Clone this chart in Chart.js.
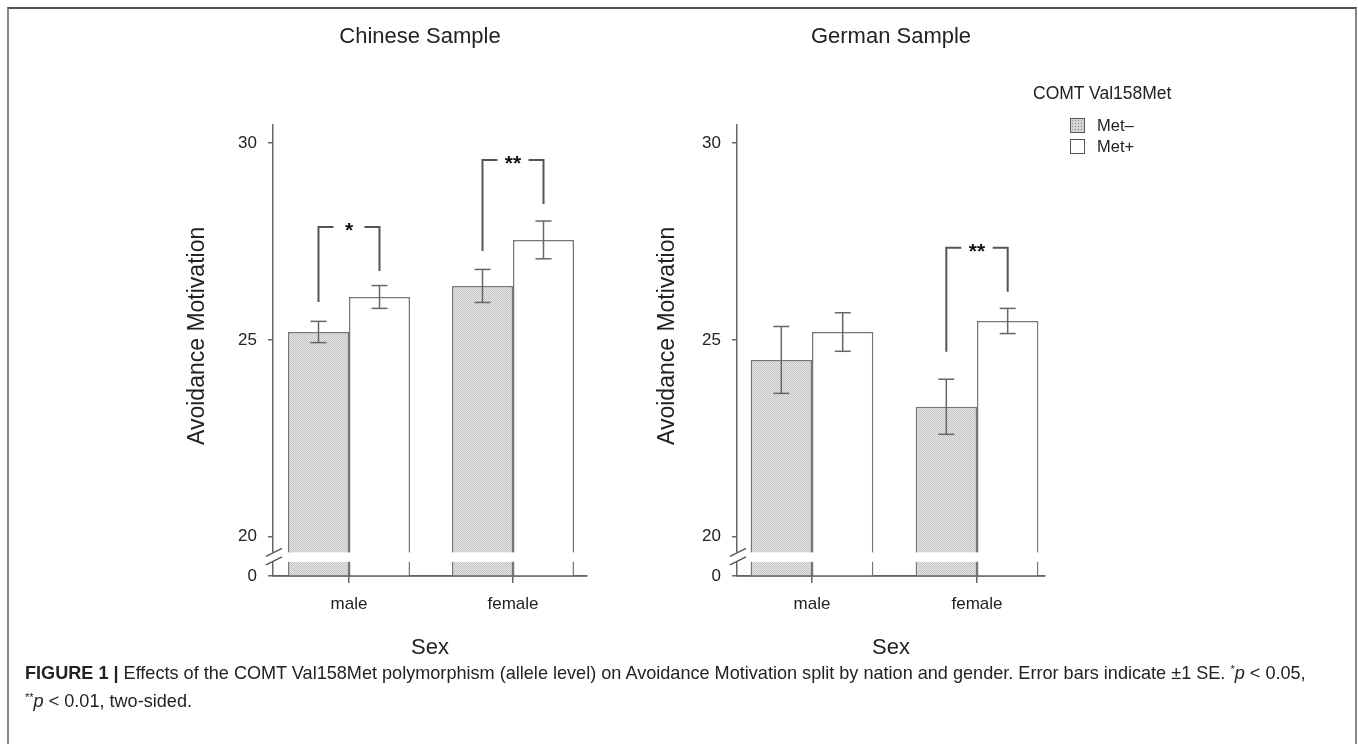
<!DOCTYPE html>
<html>
<head>
<meta charset="utf-8">
<script src="https://cdn.jsdelivr.net/npm/chart.js@4.4.0/dist/chart.umd.min.js"></script>
<style>
body{margin:0;background:#fff;width:1358px;height:744px;overflow:hidden;position:relative;font-family:"Liberation Sans",Arial,sans-serif;color:#222}
#frame{position:absolute;left:7px;top:7px;width:1346px;height:800px;border:2px solid #888;border-top-color:#555;border-bottom:none}
canvas{position:absolute;top:0}
.ttl{position:absolute;top:23px;font-size:22px;line-height:26px;transform:translateX(-50%);white-space:nowrap}
#leg{position:absolute;left:1033px;top:83px;font-size:17.5px;line-height:20px}
.item{position:absolute;left:1070px;font-size:16.5px;line-height:20px;white-space:nowrap}
.sw{position:absolute;left:0;top:3px;width:13px;height:13px;border:1px solid #555;background:#fff}
.sw.dot{background-color:#d4d4d4;background-image:radial-gradient(#888 35%,transparent 40%);background-size:3px 3px}
.item span{position:absolute;left:27px;top:0}
#cap{position:absolute;left:25px;top:659px;font-size:18.1px;line-height:28px;white-space:nowrap;color:#222}
#cap sup{font-size:11px;vertical-align:6px;line-height:0}
</style>
</head>
<body>
<div id="frame"></div>
<canvas id="c1" width="640" height="690" style="left:0"></canvas>
<canvas id="c2" width="718" height="690" style="left:640px"></canvas>
<div class="ttl" style="left:420px">Chinese Sample</div>
<div class="ttl" style="left:891px">German Sample</div>
<div id="leg">COMT Val158Met</div>
<div class="item" style="top:115px"><div class="sw dot"></div><span>Met–</span></div>
<div class="item" style="top:136px"><div class="sw"></div><span>Met+</span></div>
<div id="cap"><b>FIGURE 1 |</b> Effects of the COMT Val158Met polymorphism (allele level) on Avoidance Motivation split by nation and gender. Error bars indicate ±1 SE. <sup>*</sup><i>p</i> &lt; 0.05,<br><sup>**</sup><i>p</i> &lt; 0.01, two-sided.</div>
<script>
var categories = ['male', 'female'];
var seriesNames = ['Met–', 'Met+'];

var chineseMetMinus = [25.20, 26.37];
var chineseMetPlus = [26.09, 27.54];
var chineseSeMinus = [0.27, 0.42];
var chineseSePlus = [0.29, 0.48];

var germanMetMinus = [24.49, 23.30];
var germanMetPlus = [25.20, 25.48];
var germanSeMinus = [0.85, 0.70];
var germanSePlus = [0.49, 0.32];

// significance brackets: category, end of left leg, end of right leg, top, stars
var chineseBrackets = [
  {cat: 0, left: 25.96, right: 26.75, top: 27.87, label: '*'},
  {cat: 1, left: 27.26, right: 28.45, top: 29.57, label: '**'}
];
var germanBrackets = [
  {cat: 1, left: 24.70, right: 26.22, top: 27.34, label: '**'}
];

var yTicks = [19, 20, 25, 30];
var yTickLabels = ['0', '20', '25', '30'];

function makePattern() {
  var c = document.createElement('canvas');
  c.width = 2; c.height = 2;
  var g = c.getContext('2d');
  g.fillStyle = '#e4e4e4'; g.fillRect(0, 0, 2, 2);
  g.fillStyle = '#c6c6c6'; g.fillRect(0, 0, 1, 1); g.fillRect(1, 1, 1, 1);
  return g.createPattern(c, 'repeat');
}
var pattern = makePattern();

function line(ctx, x1, y1, x2, y2) {
  ctx.beginPath(); ctx.moveTo(x1, y1); ctx.lineTo(x2, y2); ctx.stroke();
}

var extras = {
  id: 'extras',
  afterDatasetsDraw: function(chart, args, opts) {
    var ctx = chart.ctx, a = chart.chartArea, ys = chart.scales.y;
    ctx.save();
    ctx.strokeStyle = '#666';
    ctx.lineWidth = 1.5;
    // x axis line over the bar bottoms
    line(ctx, a.left, a.bottom, a.right, a.bottom);
    // error bars
    chart.data.datasets.forEach(function(ds, di) {
      chart.getDatasetMeta(di).data.forEach(function(bar, i) {
        var v = ds.data[i].y, se = ds.se[i];
        var t = ys.getPixelForValue(v + se), b = ys.getPixelForValue(v - se);
        line(ctx, bar.x, t, bar.x, b);
        line(ctx, bar.x - 8, t, bar.x + 8, t);
        line(ctx, bar.x - 8, b, bar.x + 8, b);
      });
    });
    // brackets
    ctx.strokeStyle = '#555';
    ctx.lineWidth = 2;
    opts.brackets.forEach(function(br) {
      var x1 = chart.getDatasetMeta(0).data[br.cat].x;
      var x2 = chart.getDatasetMeta(1).data[br.cat].x;
      var yt = ys.getPixelForValue(br.top);
      ctx.beginPath();
      ctx.moveTo(x1, ys.getPixelForValue(br.left)); ctx.lineTo(x1, yt); ctx.lineTo(x1 + 15, yt);
      ctx.stroke();
      ctx.beginPath();
      ctx.moveTo(x2 - 15, yt); ctx.lineTo(x2, yt); ctx.lineTo(x2, ys.getPixelForValue(br.right));
      ctx.stroke();
      ctx.fillStyle = '#111';
      ctx.font = 'bold 21px "Liberation Sans", Arial';
      ctx.textAlign = 'center';
      ctx.textBaseline = 'middle';
      ctx.fillText(br.label, (x1 + x2) / 2, yt + 4);
    });
    // axis break
    var b1 = ys.getPixelForValue(19.6), b2 = ys.getPixelForValue(19.36);
    ctx.fillStyle = '#fff';
    ctx.fillRect(a.left - 1, b1, a.right - a.left + 2, b2 - b1);
    ctx.strokeStyle = '#555';
    ctx.lineWidth = 1.5;
    line(ctx, a.left - 7, b1 + 4, a.left + 9, b1 - 4);
    line(ctx, a.left - 7, b2 + 3, a.left + 9, b2 - 5);
    // y title
    ctx.fillStyle = '#222';
    ctx.font = '23px "Liberation Sans", Arial';
    ctx.textAlign = 'center';
    ctx.textBaseline = 'middle';
    ctx.translate(a.left - opts.titleOffset, (ys.getPixelForValue(20) + ys.getPixelForValue(30)) / 2 - 4);
    ctx.rotate(-Math.PI / 2);
    ctx.fillText('Avoidance Motivation', 0, 0);
    ctx.restore();
  }
};

function toPoints(vals) {
  return vals.map(function(v, i) { return {x: i + 1, y: v}; });
}

function makeChart(id, minus, plus, seMinus, sePlus, brackets, geo) {
  new Chart(document.getElementById(id), {
    type: 'bar',
    data: {
      datasets: [
        {label: seriesNames[0], data: toPoints(minus), se: seMinus, backgroundColor: pattern,
         borderColor: '#777', borderWidth: 1.5},
        {label: seriesNames[1], data: toPoints(plus), se: sePlus, backgroundColor: '#fff',
         borderColor: '#777', borderWidth: 1.5}
      ]
    },
    options: {
      responsive: false,
      animation: false,
      devicePixelRatio: 1,
      categoryPercentage: 0.744,
      barPercentage: 1,
      layout: {padding: {left: 0, right: geo.padRight, top: 125, bottom: 0}},
      plugins: {
        legend: {display: false},
        tooltip: {enabled: false},
        title: {display: false},
        extras: {brackets: brackets, titleOffset: geo.titleOffset}
      },
      scales: {
        x: {
          type: 'linear',
          offset: false,
          min: geo.xmin,
          max: geo.xmax,
          afterBuildTicks: function(s) {
            s.ticks = categories.map(function(c, i) { return {value: i + 1}; });
          },
          afterFit: function(s) { s.height = 114; },
          ticks: {
            callback: function(v) { return categories[v - 1]; },
            color: '#222', font: {size: 17, family: '"Liberation Sans", Arial'}, padding: 11,
            maxRotation: 0
          },
          grid: {offset: false, drawOnChartArea: false, tickLength: 7, color: '#666', lineWidth: 1.5},
          border: {color: '#666', width: 1.5},
          title: {display: true, text: 'Sex', color: '#222',
                  font: {size: 22, family: '"Liberation Sans", Arial'}, padding: {top: 0, bottom: 29}}
        },
        y: {
          min: 19,
          max: 30.46,
          afterBuildTicks: function(s) {
            s.ticks = yTicks.map(function(v) { return {value: v}; });
          },
          afterFit: function(s) { s.width = geo.yWidth; },
          ticks: {
            callback: function(v) { return yTickLabels[yTicks.indexOf(v)]; },
            color: '#222', font: {size: 17, family: '"Liberation Sans", Arial'}, padding: 11
          },
          grid: {drawOnChartArea: false, tickLength: 5, color: '#666', lineWidth: 1.5},
          border: {color: '#666', width: 1.5}
        }
      }
    },
    plugins: [extras]
  });
}

makeChart('c1', chineseMetMinus, chineseMetPlus, chineseSeMinus, chineseSePlus, chineseBrackets,
  {padRight: 53, yWidth: 273, xmin: 0.5366, xmax: 2.4512, titleOffset: 75});
makeChart('c2', germanMetMinus, germanMetPlus, germanSeMinus, germanSePlus, germanBrackets,
  {padRight: 313, yWidth: 97, xmin: 0.5455, xmax: 2.4121, titleOffset: 69});
</script>
</body>
</html>
